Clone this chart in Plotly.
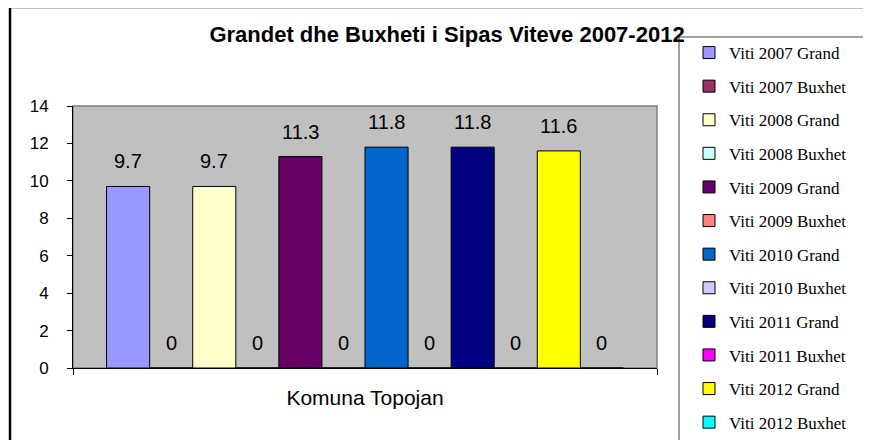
import plotly.graph_objects as go

series_names = ["Viti 2007 Grand", "Viti 2007 Buxhet", "Viti 2008 Grand", "Viti 2008 Buxhet",
                "Viti 2009 Grand", "Viti 2009 Buxhet", "Viti 2010 Grand", "Viti 2010 Buxhet",
                "Viti 2011 Grand", "Viti 2011 Buxhet", "Viti 2012 Grand", "Viti 2012 Buxhet"]
series_values = [9.7, 0, 9.7, 0, 11.3, 0, 11.8, 0, 11.8, 0, 11.6, 0]
series_colors = ["#9999FF", "#993366", "#FFFFCC", "#CCFFFF", "#660066", "#FF8080",
                 "#0066CC", "#CCCCFF", "#000080", "#FF00FF", "#FFFF00", "#00FFFF"]
category = "Komuna Topojan"
title_text = "Grandet dhe Buxheti i Sipas Viteve 2007-2012"
y_ticks = [0, 2, 4, 6, 8, 10, 12, 14]

# page body adds an 8px offset; figure coords below are page coords minus 8
OFF = 8
W, H = 871 - OFF, 440 - OFF
PL, PR, PT, PB = 73 - OFF, 657 - OFF, 106 - OFF, 368 - OFF
pw, ph = PR - PL, PB - PT

def px_x(x):
    return (x - OFF - PL) / pw

def px_y(y):
    return (PB - (y - OFF)) / ph

n = len(series_values)
pad = 0.78
x_lo, x_hi = -0.5 - pad, (n - 0.5) + pad

fig = go.Figure()
for i, (name, v, c) in enumerate(zip(series_names, series_values, series_colors)):
    fig.add_trace(go.Bar(
        x=[i], y=[v], name=name, width=1,
        marker=dict(color=c, line=dict(color="black", width=1)),
        legendgroup=name, hoverinfo="name+y",
    ))
    fig.add_annotation(x=i, y=v, xref="x", yref="y", text=f"{v:g}", showarrow=False,
                       yshift=25, yanchor="middle",
                       font=dict(family="Arial, Liberation Sans", size=20, color="black"))

# plot-area frame (grey top/right), background grey
fig.add_shape(type="rect", xref="paper", yref="paper", x0=0, x1=1, y0=0, y1=1,
              line=dict(color="#808080", width=1.5), fillcolor="#C0C0C0", layer="below")
# outer chart border
fig.add_shape(type="rect", xref="paper", yref="paper", x0=px_x(10), x1=px_x(900),
              y0=px_y(470), y1=px_y(7),
              line=dict(color="black", width=2.5), fillcolor="rgba(0,0,0,0)", layer="above")
# legend box (extends past the right and bottom edges)
fig.add_shape(type="rect", xref="paper", yref="paper", x0=px_x(679), x1=px_x(900),
              y0=px_y(470), y1=px_y(37),
              line=dict(color="#404040", width=1), fillcolor="white", layer="above")

fig.update_layout(
    width=W, height=H,
    margin=dict(l=PL, r=W - PR, t=PT, b=H - PB, autoexpand=False),
    paper_bgcolor="white", plot_bgcolor="#C0C0C0",
    barmode="overlay",
    title=dict(text=f"<b>{title_text}</b>", x=px_x(447), xref="paper", xanchor="center",
               y=1 - (34 - OFF) / H, yanchor="middle",
               font=dict(family="Arial, Liberation Sans", size=22, color="black")),
    showlegend=True,
    legend=dict(x=px_x(680), xanchor="left", y=px_y(35), yanchor="top",
                bgcolor="rgba(255,255,255,0)", borderwidth=0,
                font=dict(family="Liberation Serif, Times New Roman", size=17, color="black"),
                tracegroupgap=8.5, entrywidth=180, entrywidthmode="pixels",
                traceorder="grouped", indentation=9, maxheight=800),
    xaxis=dict(range=[x_lo, x_hi], tickmode="array", tickvals=[(n - 1) / 2], ticktext=[category],
               ticks="", showgrid=False, zeroline=False, showline=True, linecolor="black", linewidth=1,
               tickfont=dict(family="Arial, Liberation Sans", size=21, color="black"),
               ticklabelstandoff=11,
               minor=dict(tickmode="array", tickvals=[x_lo, x_hi], ticks="outside", ticklen=6,
                          tickcolor="black", tickwidth=1, showgrid=False)),
    yaxis=dict(range=[0, 14], tickmode="array", tickvals=y_ticks, ticks="outside", ticklen=5,
               tickcolor="black", showgrid=False, zeroline=False, showline=True, linecolor="black",
               linewidth=1, tickfont=dict(family="Arial, Liberation Sans", size=17, color="black"),
               ticklabelstandoff=15),
)

fig.write_html("out.html")
